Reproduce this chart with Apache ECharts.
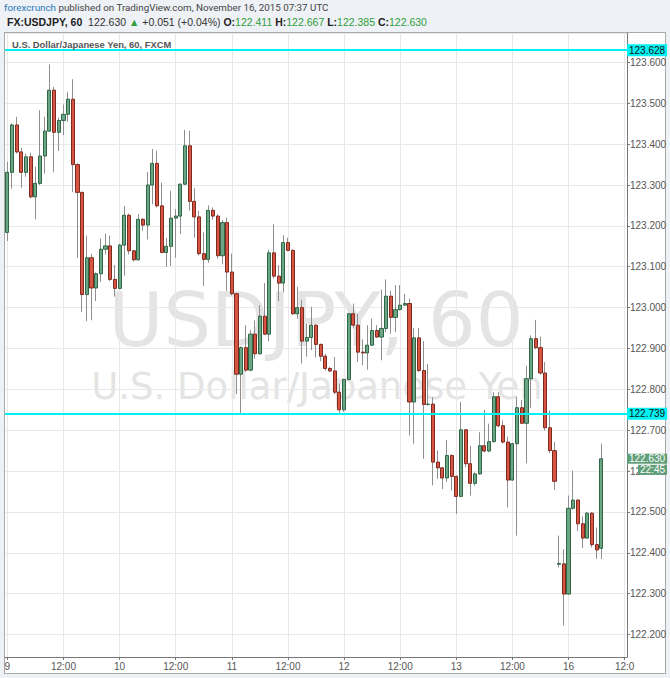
<!DOCTYPE html>
<html>
<head>
<meta charset="utf-8">
<script src="https://cdn.jsdelivr.net/npm/echarts@6/dist/echarts.min.js"></script>
<style>
html,body{margin:0;padding:0;background:#eef1f5;width:670px;height:678px;overflow:hidden;}
#frame{position:absolute;left:4px;top:32px;width:662px;height:642px;background:#fff;border:1px solid #a9a9a9;box-sizing:border-box;}
#chart{position:absolute;left:0;top:0;width:670px;height:678px;}
</style>
</head>
<body>
<div id="frame"></div>
<div id="chart"></div>
<script>
// ---------- data (hourly candles, Nov 9 00:00 -> Nov 16 07:00 UTC) ----------
const opens = [123.184,123.331,123.447,123.381,123.331,123.369,123.271,123.304,123.371,123.432,
123.532,123.429,123.458,123.473,123.510,123.350,123.282,123.032,123.122,123.048,
123.083,123.143,123.151,123.069,123.047,123.153,123.226,123.139,123.117,123.216,
123.202,123.300,123.353,123.249,123.135,123.150,123.219,123.224,123.302,123.396,
123.260,123.222,123.132,123.118,123.238,123.224,123.127,123.208,123.087,123.034,
122.837,122.902,122.847,122.935,122.887,122.979,122.935,123.134,123.077,123.060,
123.159,123.140,122.985,123.000,122.918,122.927,122.957,122.910,122.881,122.851,
122.845,122.793,122.750,122.824,122.985,122.957,122.891,122.889,122.908,122.944,
122.928,122.949,123.028,122.976,122.995,123.006,123.010,122.769,122.926,122.846,
122.763,122.764,122.622,122.608,122.583,122.638,122.587,122.538,122.701,122.618,
122.570,122.593,122.662,122.649,122.672,122.782,122.711,122.671,122.578,122.667,
122.755,122.717,122.826,122.924,122.902,122.840,122.706,122.650,122.372,122.373,
122.299,122.509,122.529,122.471,122.436,122.497,122.420,122.411];

const closes = [123.331,123.447,123.381,123.331,123.369,123.271,123.304,123.371,123.432,123.532,
123.429,123.458,123.473,123.510,123.350,123.282,123.032,123.122,123.048,123.083,
123.143,123.151,123.069,123.047,123.153,123.226,123.139,123.117,123.216,123.202,
123.300,123.353,123.249,123.135,123.150,123.219,123.224,123.302,123.396,123.260,
123.222,123.132,123.118,123.238,123.224,123.127,123.208,123.087,123.034,122.837,
122.902,122.847,122.935,122.887,122.979,122.935,123.134,123.077,123.060,123.159,
123.140,122.985,123.000,122.918,122.927,122.957,122.910,122.881,122.851,122.845,
122.793,122.750,122.824,122.985,122.957,122.891,122.889,122.908,122.944,122.928,
122.949,123.028,122.976,122.995,123.006,123.010,122.769,122.926,122.846,122.763,
122.764,122.622,122.608,122.583,122.638,122.587,122.538,122.701,122.618,122.570,
122.593,122.662,122.649,122.672,122.782,122.711,122.671,122.578,122.667,122.755,
122.717,122.826,122.924,122.902,122.840,122.706,122.650,122.575,122.374,122.299,
122.509,122.529,122.471,122.436,122.497,122.420,122.407,122.630];

const lows = [123.163,123.291,123.377,123.293,123.320,123.267,123.216,123.300,123.328,123.430,
123.331,123.383,123.422,123.455,123.283,123.122,122.989,122.967,122.969,123.016,
123.063,123.130,123.065,123.027,123.045,123.078,123.130,123.113,123.115,123.188,
123.167,123.253,123.245,123.133,123.100,123.102,123.122,123.180,123.300,123.237,
123.171,123.128,123.053,123.110,123.215,123.120,123.106,123.041,123.030,122.788,
122.740,122.843,122.844,122.875,122.885,122.933,122.918,123.071,123.016,123.038,
123.138,122.983,122.973,122.863,122.880,122.896,122.878,122.869,122.846,122.842,
122.788,122.742,122.745,122.822,122.949,122.867,122.859,122.848,122.906,122.926,
122.871,122.940,122.936,122.940,122.993,123.004,122.687,122.667,122.842,122.630,
122.760,122.565,122.581,122.556,122.573,122.552,122.495,122.536,122.609,122.540,
122.564,122.591,122.646,122.646,122.670,122.707,122.667,122.511,122.576,122.442,
122.715,122.619,122.755,122.898,122.836,122.699,122.644,122.554,122.364,122.222,
122.297,122.505,122.453,122.412,122.434,122.413,122.385,122.385];

const highs = [123.357,123.451,123.467,123.391,123.377,123.379,123.345,123.483,123.467,123.595,
123.540,123.465,123.497,123.528,123.559,123.353,123.284,123.176,123.132,123.086,
123.169,123.181,123.176,123.104,123.156,123.249,123.230,123.141,123.229,123.219,
123.332,123.388,123.384,123.306,123.171,123.286,123.241,123.304,123.435,123.433,
123.292,123.237,123.184,123.250,123.245,123.228,123.214,123.220,123.132,123.036,
122.905,122.957,122.945,122.969,123.006,123.060,123.142,123.204,123.104,123.177,
123.171,123.143,123.051,123.018,122.960,123.002,122.959,122.912,122.887,122.855,
122.879,122.814,122.826,122.987,123.010,122.985,122.922,122.957,122.973,122.957,
123.044,123.069,123.041,123.055,123.055,123.034,123.022,122.950,122.950,122.918,
122.862,122.781,122.650,122.610,122.676,122.641,122.589,122.769,122.703,122.662,
122.597,122.695,122.750,122.716,122.793,122.793,122.724,122.684,122.669,122.782,
122.774,122.858,122.932,122.970,122.929,122.867,122.748,122.671,122.442,122.409,
122.540,122.601,122.531,122.489,122.500,122.500,122.462,122.667];

// trading sessions -> hourly categories (last 5 are empty future slots)
const sessions = [['9',0,23],['10',0,23],['11',0,23],['12',0,23],['13',0,21],['15',22,23],['16',0,12]];
const categories = [];
sessions.forEach(s => { for (let h = s[1]; h <= s[2]; h++) categories.push(s[0] + ' ' + (h < 10 ? '0' : '') + h + ':00'); });

// x tick labels every 12 hours
const xTickLabels = ['9','12:00','10','12:00','11','12:00','12','12:00','13','12:00','16','12:0'];
const xTickStep = 12;

// price axis
const yMin = 122.145, yMax = 123.672;
const levelLines = [123.628, 122.739];
const countdownText = '22:45';

// header texts
const headerPublisher = 'forexcrunch';
const headerPublished = ' published on TradingView.com, November 16, 2015 07:37 UTC';
const headerSymbol = 'FX:USDJPY, 60';
const headerChange = '+0.051 (+0.04%)';
const paneTitle = 'U.S. Dollar/Japanese Yen, 60, FXCM';
const watermark1 = 'USDJPY, 60';
const watermark2 = 'U.S. Dollar/Japanese Yen';

// ---------- build ----------
const last = closes.length - 1;
const fmt = v => v.toFixed(3);
const wickData = opens.map((o, i) => [o, closes[i], lows[i], highs[i]]);
const bodyData = opens.map((o, i) => [o, closes[i], Math.min(o, closes[i]), Math.max(o, closes[i])]);

const axisFont = "'Liberation Sans Narrow','Liberation Sans',Arial,sans-serif";
const uiFont = "'Liberation Sans',Arial,sans-serif";
const headFont = "Roboto,'Liberation Sans',Arial,sans-serif";
const green = '#2f9e3a';

const chart = echarts.init(document.getElementById('chart'), null, {renderer: 'svg', width: 670, height: 678});

const isXTick = idx => idx % xTickStep === 0;

chart.setOption({
  animation: false,
  backgroundColor: 'transparent',
  textStyle: {fontFamily: uiFont},
  grid: {left: 5, top: 33, right: 43, bottom: 21, containLabel: false},
  xAxis: {
    type: 'category',
    data: categories,
    boundaryGap: true,
    axisLine: {show: true, lineStyle: {color: '#777'}},
    axisTick: {show: true, length: 3, alignWithLabel: true, interval: (i) => isXTick(i), lineStyle: {color: '#777'}},
    axisLabel: {
      show: true, interval: (i) => isXTick(i), margin: 4,
      color: '#555', fontSize: 10, fontFamily: axisFont,
      formatter: (v, i) => xTickLabels[Math.round(i / xTickStep)] || ''
    },
    splitLine: {show: true, interval: (i) => isXTick(i), alignWithLabel: true, lineStyle: {color: '#e8e8e8'}}
  },
  yAxis: {
    type: 'value',
    position: 'right',
    min: yMin, max: yMax, splitNumber: 15, scale: true,
    axisLine: {show: true, lineStyle: {color: '#777'}},
    axisTick: {show: true, length: 3, lineStyle: {color: '#777'}},
    axisLabel: {
      color: '#555', fontSize: 10, margin: 3, fontFamily: axisFont,
      showMinLabel: false, showMaxLabel: false,
      formatter: v => (Math.abs(v * 10 - Math.round(v * 10)) < 1e-6 ? fmt(v) : '')
    },
    splitLine: {show: true, lineStyle: {color: '#e8e8e8'}}
  },
  graphic: {
    elements: [
      {type: 'text', z: 0, silent: true, style: {
        x: 316, y: 320, text: watermark1, align: 'center', verticalAlign: 'middle',
        fontSize: 75, fontFamily: "'DejaVu Sans',sans-serif", fill: '#e4e4e4'}},
      {type: 'text', z: 0, silent: true, style: {
        x: 317, y: 386, text: watermark2, align: 'center', verticalAlign: 'middle',
        fontSize: 37, fontFamily: "'DejaVu Sans',sans-serif", fill: '#e4e4e4'}},
      {type: 'text', z: 10, silent: true, style: {
        x: 12, y: 44, text: paneTitle, verticalAlign: 'middle',
        fontSize: 9.4, fontWeight: 'bold', fontFamily: uiFont, fill: '#555'}},
      {type: 'text', z: 10, silent: true, style: {
        x: 4, y: 7, verticalAlign: 'middle', fontSize: 9.8, fontFamily: headFont,
        text: '{p|' + headerPublisher + '}{n|' + headerPublished + '}',
        rich: {
          p: {fill: '#2b7bb9', fontSize: 9.8, fontFamily: headFont},
          n: {fill: '#444', fontSize: 9.8, fontFamily: headFont}
        }}},
      {type: 'text', z: 10, silent: true, style: {
        x: 7, y: 22, verticalAlign: 'middle', fontSize: 10.5, fontFamily: uiFont,
        text: '{b|' + headerSymbol + '}{n|  ' + fmt(closes[last]) + ' }{g|\u25B2}{n| ' + headerChange + ' }' +
              '{b|O:}{g|' + fmt(opens[last]) + ' }{b|H:}{g|' + fmt(highs[last]) + ' }' +
              '{b|L:}{g|' + fmt(lows[last]) + ' }{b|C:}{g|' + fmt(closes[last]) + '}',
        rich: {
          b: {fill: '#222', fontWeight: 'bold', fontSize: 10.5, fontFamily: uiFont},
          n: {fill: '#333', fontSize: 10.5, fontFamily: uiFont},
          g: {fill: green, fontSize: 10.5, fontFamily: uiFont}
        }}}
    ]
  },
  series: [
    {
      name: 'wicks', type: 'candlestick', z: 2,
      data: wickData, barWidth: 1,
      itemStyle: {color: '#8f8f8f', color0: '#8f8f8f', borderColor: '#8f8f8f', borderColor0: '#8f8f8f', borderWidth: 1},
      silent: true
    },
    {
      name: 'USDJPY', type: 'candlestick', z: 3,
      data: bodyData, barWidth: 3.6,
      itemStyle: {color: '#6ba583', color0: '#d75442', borderColor: '#2f6645', borderColor0: '#7d2a1f', borderWidth: 1},
      silent: true,
      markLine: {
        symbol: 'none', silent: true, animation: false, z: 5,
        data: [
          {yAxis: levelLines[0], lineStyle: {color: '#00f2f2', width: 2, type: 'solid'},
           label: {show: true, position: 'end', distance: 0, formatter: fmt(levelLines[0]),
                   backgroundColor: '#00f2f2', color: '#111', fontSize: 10, fontFamily: axisFont, padding: [1, 2, 0, 2], lineHeight: 11}},
          {yAxis: levelLines[1], lineStyle: {color: '#00f2f2', width: 2, type: 'solid'},
           label: {show: true, position: 'end', distance: 0, formatter: fmt(levelLines[1]),
                   backgroundColor: '#00f2f2', color: '#111', fontSize: 10, fontFamily: axisFont, padding: [1, 2, 0, 2], lineHeight: 11}},
          {yAxis: closes[last], lineStyle: {color: 'rgba(0,0,0,0)', width: 0},
           label: {show: true, position: 'end', distance: 0, padding: [11, 0, 0, 0],
                   formatter: '{a|' + fmt(closes[last]) + '}\n{s|}{b|' + countdownText + '}',
                   rich: {
                     a: {backgroundColor: '#5f9e78', color: '#fff', fontSize: 10, fontFamily: axisFont, lineHeight: 11, padding: [0, 2]},
                     s: {width: 11, lineHeight: 11},
                     b: {backgroundColor: '#5f9e78', color: '#fff', fontSize: 10, fontFamily: axisFont, lineHeight: 11, padding: [0, 2]}
                   }}}
        ]
      }
    }
  ]
});
</script>
</body>
</html>
